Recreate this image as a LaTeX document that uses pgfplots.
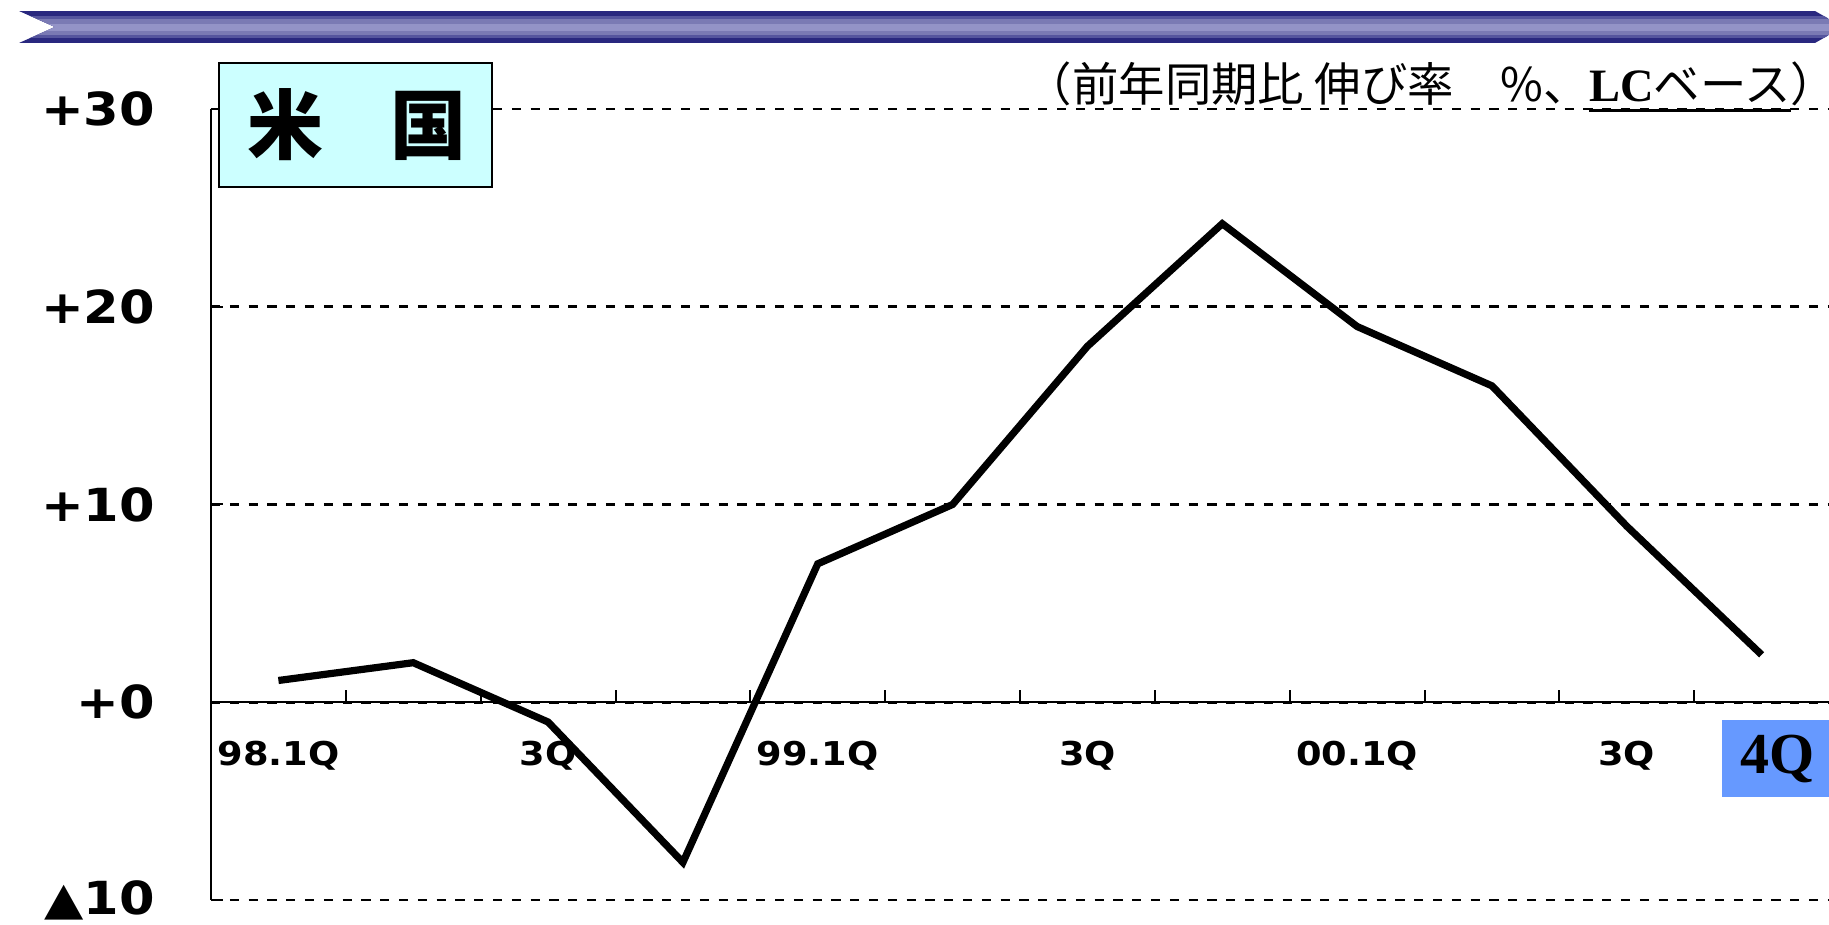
\documentclass[border=0pt]{standalone}
\usepackage{pgfplots}
\pgfplotsset{compat=1.18}
\usepackage{fontspec}
\setmainfont{DejaVu Sans}
\newfontfamily\labfont[FakeStretch=1.12]{DejaVu Sans}
\newfontfamily\jpfont{Noto Sans CJK JP}
\newfontfamily\serfont{Liberation Serif}
\definecolor{navy}{HTML}{29287F}
\definecolor{bandmid}{HTML}{55559E}
\definecolor{bandsoft}{HTML}{7A7AB4}
\definecolor{bandlight}{HTML}{9393C7}
\definecolor{boxcyan}{HTML}{CCFFFF}
\definecolor{qblue}{HTML}{6699FF}
\newcommand{\thickul}[1]{\setbox0\hbox{#1}\rlap{\rule[-2.6bp]{\wd0}{0.8bp}}\box0}

\begin{document}
\begin{tikzpicture}[x=0.25bp,y=-0.25bp]
\useasboundingbox (0,0) rectangle (1829,925);
\coordinate (origin) at (211,900);

% banner across the top, in stripes
\begin{scope}
\clip (19,11) -- (1815,11) -- (1829,19) -- (1829,35) -- (1815,43) -- (19,43) -- (55,27) -- cycle;
\fill[navy] (0,11) rectangle (1829,43);
\fill[bandmid] (0,16) rectangle (1829,38);
\fill[bandsoft] (0,19) rectangle (1829,35);
\fill[bandlight] (0,24) rectangle (1829,31);
\end{scope}

\begin{axis}[
	at={(origin)}, anchor=south west,
	scale only axis,
	width=404.5bp, height=197.75bp,
	xmin=0.5, xmax=12.5,
	ymin=-10, ymax=30,
	axis x line=middle, axis y line=left,
	every inner x axis line/.append style={-},
	every outer y axis line/.append style={-},
	x axis line style={-}, y axis line style={-},
	axis line style={black, line width=0.5bp},
	tick align=inside,
	major tick length=3bp,
	tick style={black, line width=0.5bp},
	xtick={1.5,2.5,...,11.5},
	xticklabel={\mbox{}},
	extra x ticks={1,3,5,7,9,11},
	extra x tick labels={98.1Q,3Q,99.1Q,3Q,00.1Q,3Q},
	extra x tick style={major tick length=0pt},
	xticklabel style={font=\labfont\bfseries\fontsize{8.2bp}{9bp}\selectfont, yshift=-6.3bp},
	ytick={-10,0,10,20,30},
	yticklabels={▲10,+0,+10,+20,+30},
	yticklabel style={font=\labfont\bfseries\fontsize{11.4bp}{13bp}\selectfont, xshift=-10.5bp},
	ymajorgrids,
	major grid style={black, line width=0.7bp, dash pattern=on 2.3bp off 2.4bp},
	clip=false,
]
\addplot[black, line width=1.8bp] coordinates {
	(1,1.1) (2,2.0) (3,-1.0) (4,-8.1) (5,7.0) (6,10.0)
	(7,18.0) (8,24.2) (9,19.0) (10,16.0) (11,8.9) (12,2.4)
};
\end{axis}

% title box
\filldraw[fill=boxcyan, draw=black, line width=0.5bp] (219,63) rectangle (492,187);
\node at (357,125) {\jpfont\bfseries\fontsize{19bp}{19bp}\selectfont 米\hspace{16.75bp}国};

% unit note
\node[anchor=east, inner sep=0pt] at (1828,87)
  {\jpfont\fontsize{11.6bp}{12bp}\selectfont （前年同期比 伸び率　\%、\thickul{{\serfont\bfseries LC}ベース}）\kern-2.5bp};

% highlighted last quarter
\fill[qblue] (1722,720) rectangle (1829,797);
\node at (1778,759) {\serfont\bfseries\fontsize{14.5bp}{15bp}\selectfont 4Q};
\end{tikzpicture}
\end{document}
